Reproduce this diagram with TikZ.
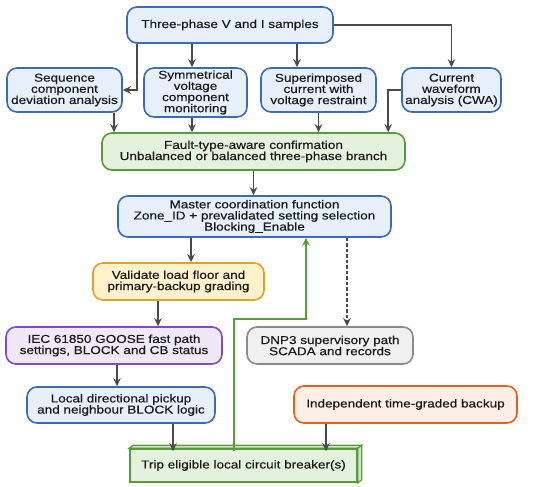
\documentclass[tikz,border=0pt]{standalone}
\usepackage{fontspec}
\usetikzlibrary{arrows.meta}
\setmainfont{Liberation Sans}[FakeStretch=1.18,FakeBold=0.35]
\definecolor{bluefill}{HTML}{E6EFFA}
\definecolor{blueline}{HTML}{3D6BAF}
\definecolor{greenfill}{HTML}{E4F1DC}
\definecolor{greenline}{HTML}{5A9A3A}
\definecolor{yellowfill}{HTML}{FFF2CC}
\definecolor{yellowline}{HTML}{DCA423}
\definecolor{purplefill}{HTML}{EFE8F7}
\definecolor{purpleline}{HTML}{7E4DB8}
\definecolor{grayfill}{HTML}{F0F0F0}
\definecolor{grayline}{HTML}{8A8A8A}
\definecolor{orangefill}{HTML}{FDEEE6}
\definecolor{orangeline}{HTML}{E0621E}
\definecolor{arrowgray}{HTML}{4A4A4A}
\tikzset{
  box/.style={rounded corners=10bp,line width=1.6bp,align=center,inner sep=2bp,
    text=black!90,font=\fontsize{11.5}{11.2}\selectfont},
  bluebox/.style={box,draw=blueline,fill=bluefill},
  greenbox/.style={box,draw=greenline,fill=greenfill},
  yellowbox/.style={box,draw=yellowline,fill=yellowfill},
  purplebox/.style={box,draw=purpleline,fill=purplefill},
  graybox/.style={box,draw=grayline,fill=grayfill},
  orangebox/.style={box,draw=orangeline,fill=orangefill},
  tripbox/.style={box,rounded corners=0pt,draw=greenline,fill=greenfill},
  arr/.style={line width=1.6bp,draw=arrowgray,->,>={Stealth[length=8bp,width=7.5bp]}},
  dasharr/.style={arr,dash pattern=on 3.5bp off 2bp},
  fback/.style={line width=1.6bp,draw=greenline,->,>={Stealth[length=8bp,width=7.5bp]}}
}

\begin{document}
\begin{tikzpicture}[x=1bp,y=-1bp]
  \useasboundingbox (0,0) rectangle (550,487);

  \node[bluebox,minimum width=206bp,minimum height=36bp] (samples) at (230,25) {Three-phase V and I samples};

  \node[bluebox,minimum width=115bp,minimum height=44bp] (seq) at (64.5,90) {Sequence\\component\\deviation analysis};
  \node[bluebox,minimum width=103bp,minimum height=49bp] (sym) at (195.5,92.5) {Symmetrical\\voltage\\component\\monitoring};
  \node[bluebox,minimum width=115bp,minimum height=44bp] (sup) at (318.5,90) {Superimposed\\current with\\voltage restraint};
  \node[bluebox,minimum width=99bp,minimum height=44bp] (cwa) at (451.5,90) {Current\\waveform\\analysis (CWA)};

  \node[greenbox,minimum width=303bp,minimum height=37bp] (confirm) at (253.5,151.5) {Fault-type-aware confirmation\\Unbalanced or balanced three-phase branch};
  \node[bluebox,minimum width=273bp,minimum height=41bp] (master) at (254.5,216.5) {Master coordination function\\Zone\_ID + prevalidated setting selection\\Blocking\_Enable};
  \node[yellowbox,minimum width=171bp,minimum height=37bp] (validate) at (178.5,281.5) {Validate load floor and\\primary-backup grading};
  \node[purplebox,minimum width=216bp,minimum height=37bp] (goose) at (114,345.5) {IEC 61850 GOOSE fast path\\settings, BLOCK and CB status};
  \node[graybox,minimum width=166bp,minimum height=37bp] (dnp) at (330,345.5) {DNP3 supervisory path\\SCADA and records};
  \node[bluebox,minimum width=188bp,minimum height=36bp] (local) at (121,405) {Local directional pickup\\and neighbour BLOCK logic};
  \node[orangebox,minimum width=223bp,minimum height=37bp] (backup) at (405.5,404.5) {Independent time-graded backup};

  % trip block with a shallow 3D edge
  \node[tripbox,minimum width=227bp,minimum height=33bp] (trip) at (243.5,465.5) {Trip eligible local circuit breaker(s)};
  \draw[line width=1.2bp,draw=greenline,fill=greenfill!85!greenline] (trip.north west) -- ++(4,-3) -- ([shift={(4,-3)}]trip.north east) -- (trip.north east) -- cycle;
  \draw[line width=1.2bp,draw=greenline,fill=greenfill!85!greenline] (trip.north east) -- ++(4,-3) -- ([shift={(4,-3)}]trip.south east) -- (trip.south east) -- cycle;

  % fan-out from the samples
  \draw[arr] ([xshift=-93bp]samples.south) |- (seq.east);
  \draw[arr] ([xshift=-3.5bp]samples.south -| sym.north) -- ([xshift=-3.5bp]sym.north);
  \draw[arr] ([xshift=-21.5bp]samples.south -| sup.north) -- ([xshift=-21.5bp]sup.north);
  \draw[arr] (samples.east) -| (cwa.north);

  % into the confirmation
  \coordinate (s1) at ([xshift=49.5bp]seq.south);
  \coordinate (s2) at ([xshift=-3.5bp]sym.south);
  \coordinate (c1) at ([xshift=-13bp]cwa.west);
  \draw[arr] (s1) -- (s1 |- confirm.north);
  \draw[arr] (s2) -- (s2 |- confirm.north);
  \draw[arr] (sup.south) -- (sup.south |- confirm.north);
  \draw[arr] (cwa.west) -- (c1) -- (c1 |- confirm.north);

  \draw[arr] (confirm.south) -- (confirm.south |- master.north);

  % below the master function
  \coordinate (v1) at ([xshift=12.5bp]validate.north);
  \coordinate (v2) at ([xshift=-20.5bp]validate.south);
  \coordinate (d1) at ([xshift=17bp]dnp.north);
  \coordinate (l1) at ([xshift=52bp]local.south);
  \coordinate (b1) at ([xshift=-79.5bp]backup.south);
  \draw[arr] (master.south -| v1) -- (v1);
  \draw[arr] (v2) -- (v2 |- goose.north);
  \draw[dasharr] (master.south -| d1) -- (d1);
  \draw[arr] ([xshift=3bp]goose.south) -- ([xshift=3bp]goose.south |- local.north);
  \draw[arr] (l1) -- ([yshift=-3bp]l1 |- trip.north);
  \draw[arr] (b1) -- ([yshift=-3bp]b1 |- trip.north);

  % feedback to the master function
  \coordinate (g1) at ([xshift=-9.5bp,yshift=-3bp]trip.north);
  \coordinate (m1) at ([xshift=51.5bp]master.south);
  \draw[fback] (g1) -- ++(0,-132) -| (m1);
\end{tikzpicture}
\end{document}
